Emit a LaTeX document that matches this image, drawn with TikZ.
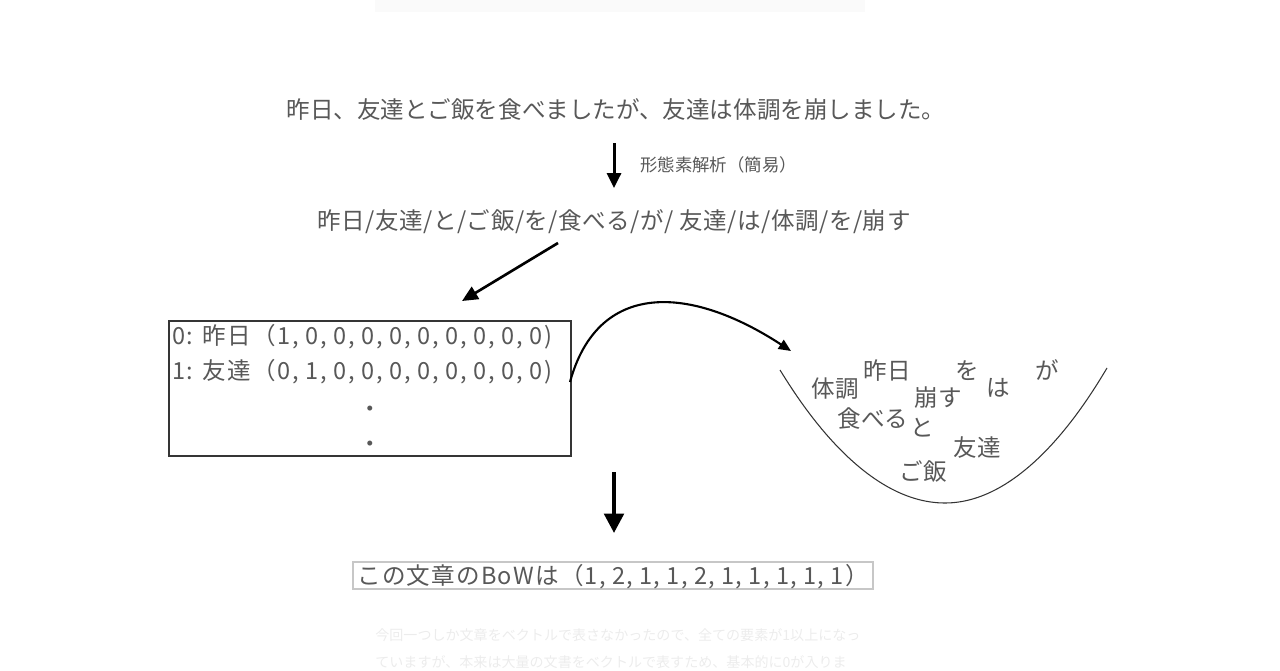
\documentclass[tikz,border=0pt]{standalone}
\usepackage{fontspec}
\setmainfont{Noto Sans CJK JP}
\newfontfamily\vecfont{Noto Sans CJK JP}[LetterSpace=5.2]
\newfontfamily\boxfont{Noto Sans CJK JP}[LetterSpace=6.6]
\newfontfamily\splitfont{Noto Sans CJK JP}[LetterSpace=2.2]
\usetikzlibrary{arrows.meta}
\definecolor{txtgray}{RGB}{88,88,88}
\definecolor{faint}{RGB}{236,236,236}
\tikzset{
  jp/.style={text=txtgray, inner sep=0pt, font=\fontsize{13.4pt}{15pt}\selectfont},
  vec/.style={jp, anchor=west, font=\vecfont\fontsize{13.4pt}{15pt}\selectfont},
  onehot/.style={jp, anchor=west, font=\boxfont\fontsize{13.4pt}{15pt}\selectfont},
  small/.style={text=txtgray, inner sep=0pt, font=\fontsize{9.9pt}{11pt}\selectfont},
  ghost/.style={text=faint, inner sep=0pt, anchor=west, font=\fontsize{8pt}{10pt}\selectfont},
  bigarrow/.style={line width=1.7pt, -{Triangle[length=8.5pt,width=8pt]}},
}
\begin{document}
\begin{tikzpicture}[x=0.02cm, y=-0.02cm]
  \useasboundingbox (0,0) rectangle (1280,670);
  %%%%%%%%%%%%%the faint bits round it%%%%%%%%%%%%%%%%%%%%%%
  \fill[black!2] (375,0) rectangle (865,12);
  \node[ghost] (g1) at (375,635) {今回一つしか文章をベクトルで表さなかったので、全ての要素が1以上になっ};
  \node[ghost] (g2) at (375,662) {ていますが、本来は大量の文書をベクトルで表すため、基本的に0が入りま};

  %%%%%%%%%%%%%sentence and split%%%%%%%%%%%%%%%%%%%%%%
  \node[jp] (sent) at (616,110) {昨日、友達とご飯を食べましたが、友達は体調を崩しました。};
  \coordinate (a1s) at (614,143);
  \coordinate (a1e) at (614,188);
  \draw[bigarrow] (a1s) -- (a1e);
  \node[small, anchor=west] (morph) at (640,165) {形態素解析（簡易）};
  \node[jp, font=\splitfont\fontsize{13.4pt}{15pt}\selectfont] (split) at (614,222)
    {昨日/友達/と/ご飯/を/食べる/が/ 友達/は/体調/を/崩す};

  %%%%%%%%%%%%%one hot vectors%%%%%%%%%%%%%%%%%%%%%%
  \coordinate (a2s) at (558,243);
  \coordinate (a2e) at (462,301);
  \draw[line width=1.5pt, -{Triangle[length=9pt,width=8pt]}] (a2s) -- (a2e);
  \draw[txtgray!60!black, line width=0.6pt] (169,321) rectangle (571,456);
  \node[onehot] (v0) at (172,337) {0: 昨日（1, 0, 0, 0, 0, 0, 0, 0, 0, 0)};
  \node[onehot] (v1) at (172,372) {1: 友達（0, 1, 0, 0, 0, 0, 0, 0, 0, 0)};
  \node[jp] (d1) at (370,412) {・};
  \node[jp] (d2) at (370,447) {・};

  %%%%%%%%%%%%%the bag%%%%%%%%%%%%%%%%%%%%%%
  \coordinate (c1) at (570,382);
  \coordinate (c2) at (791,351);
  \draw[line width=1.2pt, -{Triangle[length=7pt,width=6pt]}]
    (c1) .. controls (598,280) and (690,285) .. (c2);
  \draw[black!80, line width=0.6pt] (780,370) parabola bend (945,503) (1107,368);
  \node[jp] (w1) at (835,389) {体調};
  \node[jp] (w2) at (887,371) {昨日};
  \node[jp] (w3) at (967,371) {を};
  \node[jp] (w4) at (1047,370) {が};
  \node[jp] (w5) at (938,398) {崩す};
  \node[jp] (w6) at (998,388) {は};
  \node[jp] (w7) at (873,419) {食べる};
  \node[jp] (w8) at (922,428) {と};
  \node[jp] (w9) at (977,448) {友達};
  \node[jp] (w10) at (923,472) {ご飯};

  %%%%%%%%%%%%%result%%%%%%%%%%%%%%%%%%%%%%
  \coordinate (a3s) at (614,472);
  \coordinate (a3e) at (614,533);
  \draw[line width=2.3pt, -{Triangle[length=11pt,width=11pt]}] (a3s) -- (a3e);
  \draw[black!22, line width=0.6pt] (353,562) rectangle (873,589);
  \node[vec] (bow) at (357,577) {この文章のBoWは（1, 2, 1, 1, 2, 1, 1, 1, 1, 1）};
\end{tikzpicture}
\end{document}
